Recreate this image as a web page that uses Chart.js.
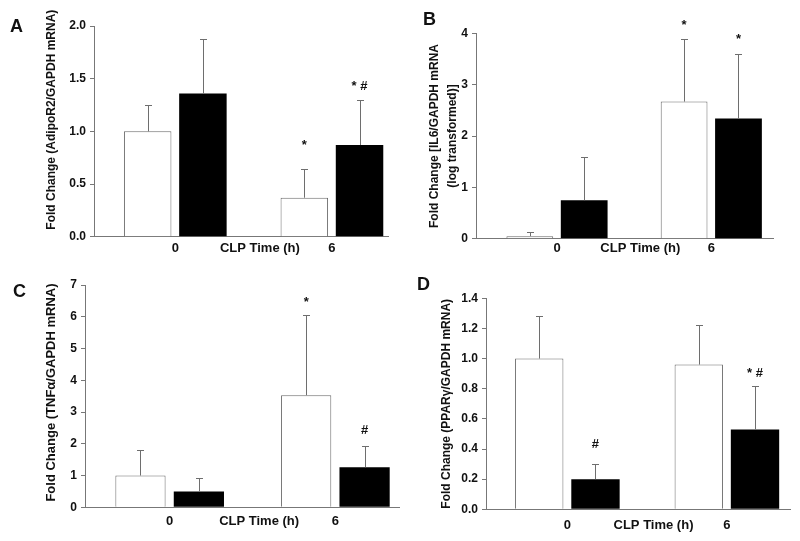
<!DOCTYPE html>
<html>
<head>
<meta charset="utf-8">
<script src="https://cdn.jsdelivr.net/npm/chart.js@4.4.1/dist/chart.umd.min.js"></script>
<style>
  body { margin: 0; background: #fff; }
  #wrap { position: relative; width: 800px; height: 541px; }
  .panel { position: absolute; }
</style>
</head>
<body>
<div id="wrap">
  <div class="panel" style="left:0;top:0;width:400px;height:270px"><canvas id="cA"></canvas></div>
  <div class="panel" style="left:400px;top:0;width:400px;height:270px"><canvas id="cB"></canvas></div>
  <div class="panel" style="left:0;top:270px;width:400px;height:271px"><canvas id="cC"></canvas></div>
  <div class="panel" style="left:400px;top:270px;width:400px;height:271px"><canvas id="cD"></canvas></div>
</div>
<script>
// groups on the x axis (CLP time) and the axis labels
const groups = ['0', '6'];
const xTickLabels = ['0', 'CLP Time (h)', '6'];
const xTickAt = [0, 0.54, 1];

// A - AdipoR2
const whiteA = [1.00, 0.37];
const blackA = [1.36, 0.87];
const whiteErrA = [0.25, 0.27];
const blackErrA = [0.52, 0.43];
const whiteMarkA = ['', '*'];
const blackMarkA = ['', '* #'];
const whiteMarkAtA = [null, 0.87];
const blackMarkAtA = [null, 1.43];
const yTicksA = ['0.0', '0.5', '1.0', '1.5', '2.0'];

// B - IL6 (log)
const whiteB = [0.05, 2.67];
const blackB = [0.75, 2.34];
const whiteErrB = [0.09, 1.22];
const blackErrB = [0.84, 1.26];
const whiteMarkB = ['', '*'];
const blackMarkB = ['', '*'];
const whiteMarkAtB = [null, 4.16];
const blackMarkAtB = [null, 3.89];
const yTicksB = ['0', '1', '2', '3', '4'];

// C - TNFa
const whiteC = [1.00, 3.53];
const blackC = [0.50, 1.26];
const whiteErrC = [0.79, 2.51];
const blackErrC = [0.43, 0.67];
const whiteMarkC = ['', '*'];
const blackMarkC = ['', '#'];
const whiteMarkAtC = [null, 6.46];
const blackMarkAtC = [null, 2.43];
const yTicksC = ['0', '1', '2', '3', '4', '5', '6', '7'];

// D - PPARg
const whiteD = [1.00, 0.96];
const blackD = [0.20, 0.53];
const whiteErrD = [0.28, 0.26];
const blackErrD = [0.10, 0.29];
const whiteMarkD = ['', ''];
const blackMarkD = ['#', '* #'];
const whiteMarkAtD = [null, null];
const blackMarkAtD = [0.43, 0.90];
const yTicksD = ['0.0', '0.2', '0.4', '0.6', '0.8', '1.0', '1.2', '1.4'];

const FONT = '"Liberation Sans", Arial, sans-serif';
Chart.defaults.font.family = FONT;
Chart.defaults.color = '#111';

// error bars (upper only), significance marks and panel letter
const extras = {
  id: 'extras',
  afterDatasetsDraw(chart, args, opts) {
    const ctx = chart.ctx;
    const y = chart.scales.y;
    ctx.save();
    chart.data.datasets.forEach((ds, di) => {
      const meta = chart.getDatasetMeta(di);
      meta.data.forEach((bar, i) => {
        const top = y.getPixelForValue(ds.data[i].y + opts.errs[di][i]);
        ctx.strokeStyle = '#6e6e6e';
        ctx.lineWidth = 1;
        ctx.beginPath();
        ctx.moveTo(Math.round(bar.x) + 0.5, bar.y);
        ctx.lineTo(Math.round(bar.x) + 0.5, Math.round(top) + 0.5);
        ctx.moveTo(Math.round(bar.x) - 3, Math.round(top) + 0.5);
        ctx.lineTo(Math.round(bar.x) + 4, Math.round(top) + 0.5);
        ctx.stroke();
        const m = opts.marks[di][i];
        if (m) {
          ctx.fillStyle = '#111';
          ctx.font = 'bold 13px ' + FONT;
          ctx.textAlign = 'center';
          ctx.textBaseline = 'middle';
          ctx.fillText(m, bar.x, y.getPixelForValue(opts.markAt[di][i]));
        }
      });
    });
    ctx.fillStyle = '#111';
    ctx.font = 'bold 18px ' + FONT;
    ctx.textAlign = 'left';
    ctx.textBaseline = 'alphabetic';
    ctx.fillText(opts.letter, opts.letterX, opts.letterY);
    ctx.restore();
  }
};

function makePanel(id, o) {
  new Chart(document.getElementById(id), {
    type: 'bar',
    data: {
      datasets: [
        { data: o.white.map((v, i) => ({ x: i, y: v })), backgroundColor: '#fff', borderColor: '#6b6b6b',
          borderWidth: 1, xAxisID: 'x', categoryPercentage: 0.705, barPercentage: 0.86 },
        { data: o.black.map((v, i) => ({ x: i, y: v })), backgroundColor: '#000', borderColor: '#000',
          borderWidth: 0, xAxisID: 'x', categoryPercentage: 0.705, barPercentage: 0.86 }
      ]
    },
    options: {
      responsive: true,
      maintainAspectRatio: false,
      animation: false,
      layout: { padding: o.pad },
      plugins: {
        legend: { display: false },
        tooltip: { enabled: false },
        extras: { errs: o.errs, marks: o.marks, markAt: o.markAt, letter: o.letter, letterX: o.letterX, letterY: o.letterY }
      },
      scales: {
        x: {
          type: 'linear', display: false, offset: false, min: o.xMin, max: o.xMax,
          afterBuildTicks: s => { s.ticks = groups.map((g, i) => ({ value: i })); }
        },
        xl: {
          type: 'linear', axis: 'x', position: 'bottom', offset: false, min: o.xMin, max: o.xMax,
          afterBuildTicks: s => { s.ticks = xTickAt.map(v => ({ value: v })); },
          afterFit: s => { s.height = 24; },
          ticks: { callback: (v, i) => xTickLabels[i], autoSkip: false, maxRotation: 0, minRotation: 0,
                   font: { size: 13, weight: 'bold' }, color: '#111', padding: o.xPad },
          grid: { display: false, drawTicks: false },
          border: { color: '#777' }
        },
        y: {
          min: 0, max: parseFloat(o.yTicks[o.yTicks.length - 1]),
          afterBuildTicks: s => { s.ticks = o.yTicks.map(t => ({ value: parseFloat(t) })); },
          afterFit: s => { s.width = o.yWidth; },
          ticks: { callback: (v, i) => o.yTicks[i], font: { size: 12, weight: 'bold' }, color: '#111', padding: 4 },
          grid: { drawOnChartArea: false, tickLength: 4, color: '#777' },
          border: { color: '#777' },
          title: { display: true, text: o.yTitle, color: '#111', padding: 0,
                   font: { size: o.titleSize, weight: 'bold', lineHeight: o.titleLH } }
        }
      }
    },
    plugins: [extras]
  });
}

// leading spaces nudge the rotated title towards the top, as in the original
const nb = n => '\u00a0'.repeat(n);

makePanel('cA', {
  white: whiteA, black: blackA, errs: [whiteErrA, blackErrA],
  marks: [whiteMarkA, blackMarkA], markAt: [whiteMarkAtA, blackMarkAtA], yTicks: yTicksA,
  yTitle: nb(7) + 'Fold Change (AdipoR2/GAPDH mRNA)', titleSize: 12, titleLH: 1.2,
  pad: { left: 44, top: 26, right: 12, bottom: 9.3 }, yWidth: 50,
  xMin: -0.519, xMax: 1.358, xPad: 3.5, letter: 'A', letterX: 10, letterY: 32
});
makePanel('cB', {
  white: whiteB, black: blackB, errs: [whiteErrB, blackErrB],
  marks: [whiteMarkB, blackMarkB], markAt: [whiteMarkAtB, blackMarkAtB], yTicks: yTicksB,
  yTitle: ['Fold Change [IL6/GAPDH mRNA', '(log transformed)]'], titleSize: 12, titleLH: 1.5,
  pad: { left: 26, top: 33.3, right: 27, bottom: 7.3 }, yWidth: 50,
  xMin: -0.525, xMax: 1.40, xPad: 1.8, letter: 'B', letterX: 23, letterY: 25
});
makePanel('cC', {
  white: whiteC, black: blackC, errs: [whiteErrC, blackErrC],
  marks: [whiteMarkC, blackMarkC], markAt: [whiteMarkAtC, blackMarkAtC], yTicks: yTicksC,
  yTitle: nb(2) + 'Fold Change (TNFα/GAPDH mRNA)', titleSize: 13, titleLH: 1.2,
  pad: { left: 44, top: 15, right: 0, bottom: 9.7 }, yWidth: 41,
  xMin: -0.511, xMax: 1.39, xPad: 6.6, letter: 'C', letterX: 13, letterY: 27
});
makePanel('cD', {
  white: whiteD, black: blackD, errs: [whiteErrD, blackErrD],
  marks: [whiteMarkD, blackMarkD], markAt: [whiteMarkAtD, blackMarkAtD], yTicks: yTicksD,
  yTitle: 'Fold Change (PPARγ/GAPDH mRNA)', titleSize: 12, titleLH: 1.2,
  pad: { left: 39.5, top: 28.3, right: 9.3, bottom: 7.7 }, yWidth: 46.5,
  xMin: -0.51, xMax: 1.40, xPad: 7.9, letter: 'D', letterX: 17, letterY: 20
});
</script>
</body>
</html>
